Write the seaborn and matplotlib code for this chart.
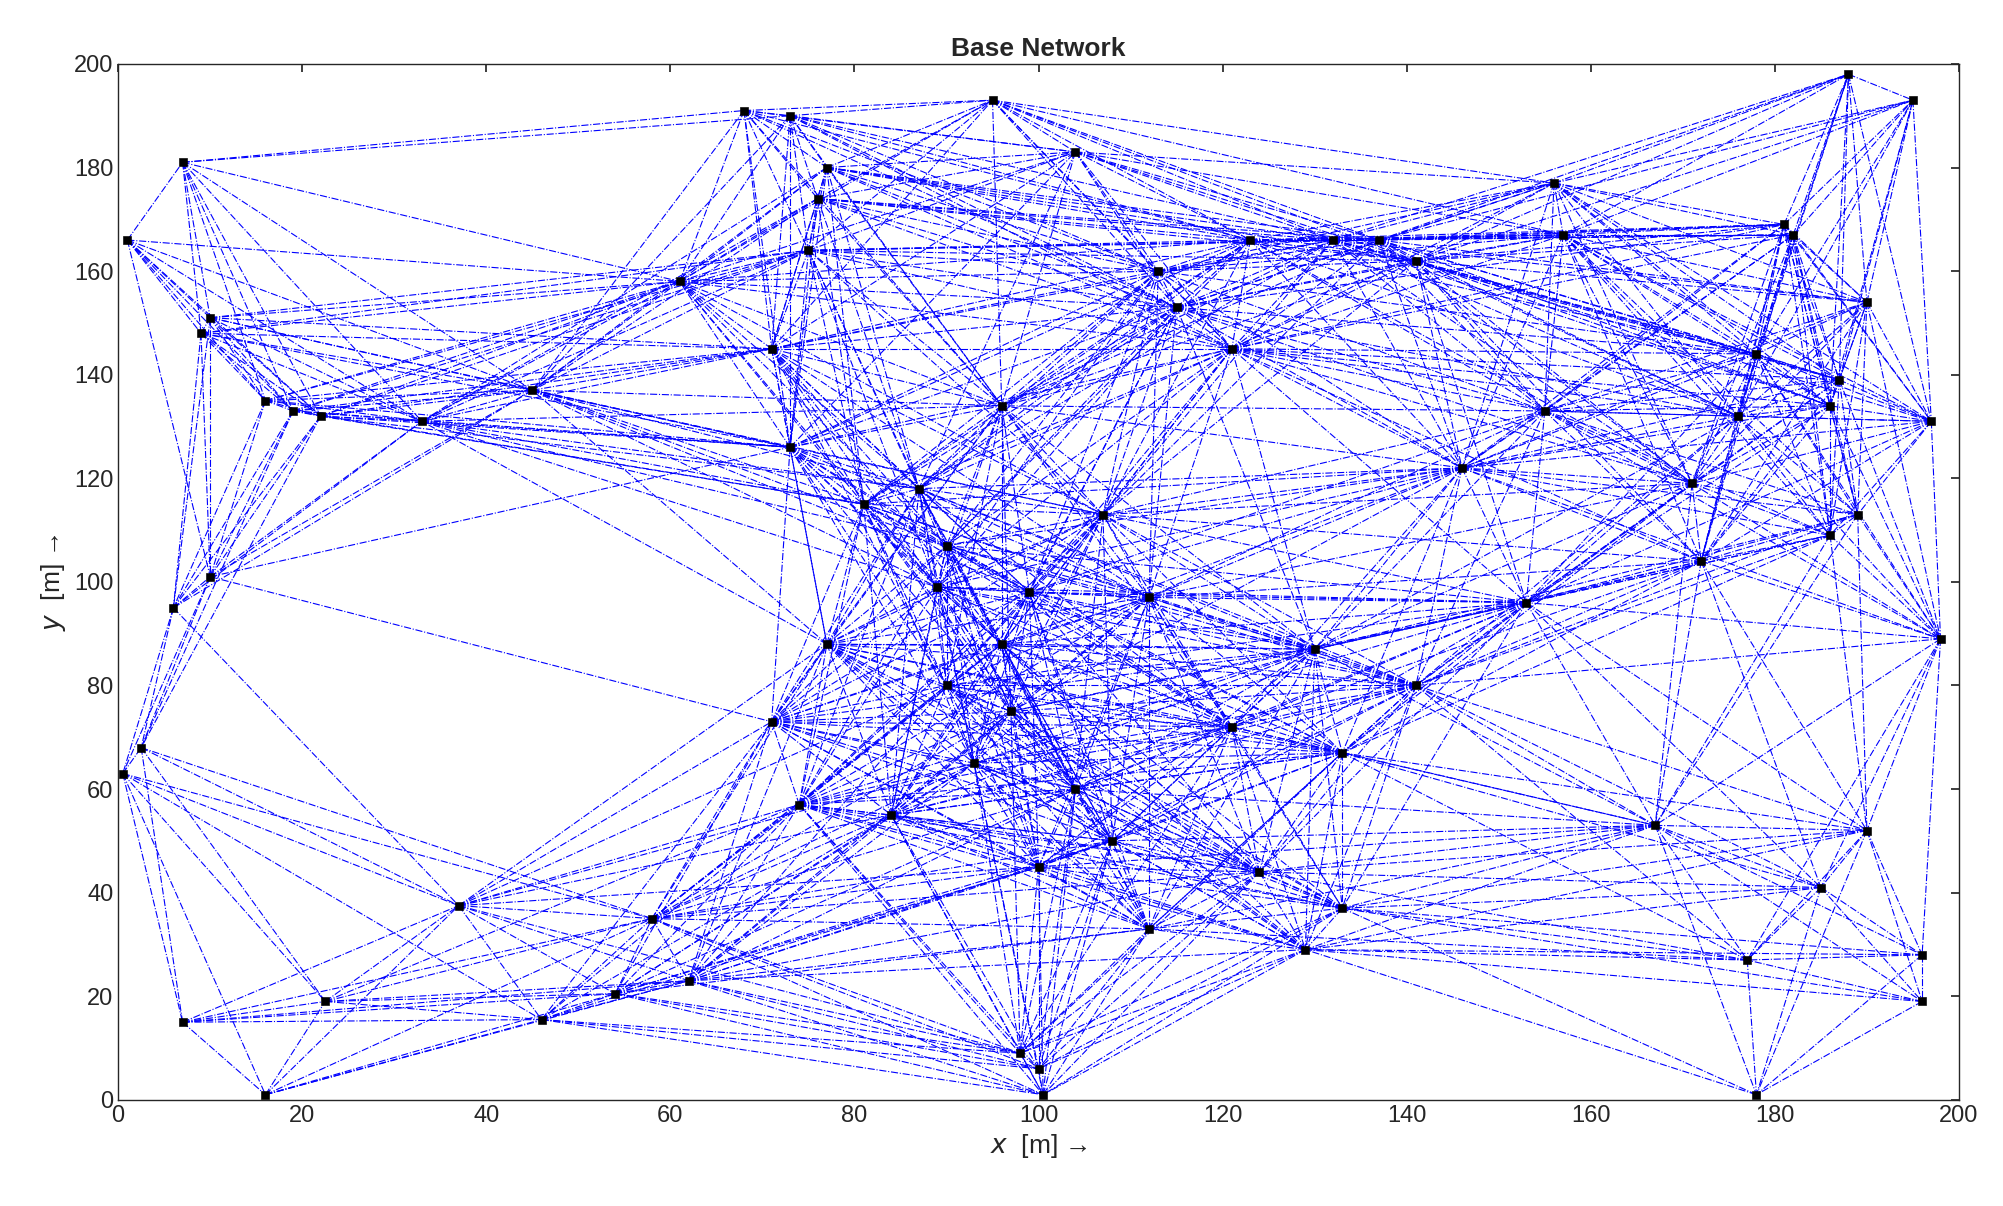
import numpy as np
import pandas as pd
import seaborn as sns
import matplotlib
matplotlib.use("Agg")
import matplotlib.pyplot as plt
from matplotlib.collections import LineCollection

node_x = [1,7,9,10,16,19,22,6,10,0.5,2.5,7,16,22.5,37,46,54,58,62,68,73,77,76,75,71,73,74,71,77,61,45,33,
          95,104,113,115,123,121,132,137,141,156,157,181,182,178,176,187,186,188,195,190,197,155,146,171,172,186,
          189,198,153,141,130,121,133,167,190,185,196,196,177,178,129,133,124,112,100,98,100,100.5,96,107,112,90,
          89,99,96,84,90,81,87,93,104,108,97]
node_y = [166,181,148,151,135,133,132,95,101,63,68,15,1,19,37.5,15.5,20.5,35,23,191,190,180,174,164,145,126,
          57,73,88,158,137,131,193,183,160,153,166,145,166,166,162,177,167,169,167,144,132,139,134,198,193,154,
          131,133,122,119,104,109,113,89,96,80,87,72,67,53,52,41,28,19,27,1,29,37,44,33,45,9,6,1,134,113,97,107,
          99,98,88,55,80,115,118,65,60,50,75]
link_range = 68

sns.set_theme(style="white")
plt.rcParams['font.family'] = ['Liberation Sans', 'DejaVu Sans']

nodes = pd.DataFrame({"x": node_x, "y": node_y})
xs = np.array(node_x); ys = np.array(node_y)
fig = plt.figure(figsize=(20.03, 12.06), dpi=100)
ax = fig.add_axes([0.059, 0.088, 0.919, 0.859])
segs = []
for i in range(len(xs)):
    for j in range(i + 1, len(xs)):
        if np.hypot(xs[i]-xs[j], ys[i]-ys[j]) <= link_range:
            segs.append([(xs[i], ys[i]), (xs[j], ys[j])])
ax.add_collection(LineCollection(segs, colors="#0000ff", linewidths=0.8, linestyles="dashdot"))
sns.scatterplot(data=nodes, x="x", y="y", ax=ax, color="black", s=30, marker="s", zorder=3, edgecolor="black")
ax.set_xlim(0, 200); ax.set_ylim(0, 200)
ax.set_xticks(range(0, 201, 20)); ax.set_yticks(range(0, 201, 20))
ax.tick_params(direction="in", length=6, labelsize=17, colors="#262626", top=True, right=True)
for s in ax.spines.values():
    s.set_color("#262626"); s.set_linewidth(1)
ax.set_xlabel(r"$x$  [m] →", fontsize=19, color="#262626")
ax.set_ylabel(r"$y$  [m] →", fontsize=19, color="#262626")
ax.set_title("Base Network", fontsize=19, fontweight="bold")
fig.savefig("out.png", dpi=100)
